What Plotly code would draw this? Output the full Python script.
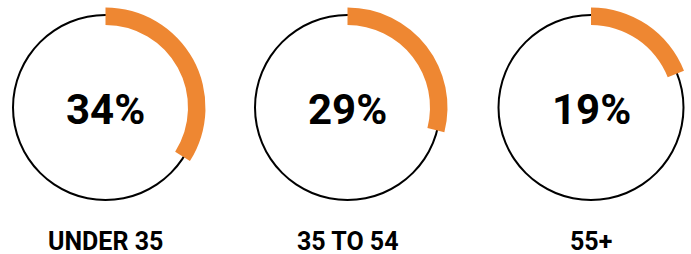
import plotly.graph_objects as go

categories = ["UNDER 35", "35 TO 54", "55+"]
values = [34, 29, 19]
value_labels = ["34%", "29%", "19%"]

W, H = 691, 254
ORANGE = "#EE8732"
FONT = "Roboto, Liberation Sans, Arial, sans-serif"

centers_x = [105.5, 347.5, 591.0]
center_y_top = 107.5
cy = H - center_y_top

R_ARC_OUT, R_ARC_IN = 100.0, 82.5
R_RING_OUT, R_RING_IN = 93.5, 91.5

fig = go.Figure()

def dom(cx, r):
    return dict(x=[(cx - r) / W, (cx + r) / W], y=[(cy - r) / H, (cy + r) / H])

for i, (cat, v) in enumerate(zip(categories, values)):
    cx = centers_x[i]
    fig.add_trace(go.Pie(
        values=[100], labels=[cat + " ring"], domain=dom(cx, R_RING_OUT),
        hole=R_RING_IN / R_RING_OUT, marker=dict(colors=["#000000"], line=dict(width=0)),
        textinfo="none", hoverinfo="skip", sort=False, showlegend=False,
    ))
    fig.add_trace(go.Pie(
        values=[v, 100 - v], labels=[cat, cat + " rest"], domain=dom(cx, R_ARC_OUT),
        hole=R_ARC_IN / R_ARC_OUT, direction="clockwise", rotation=0, sort=False,
        marker=dict(colors=[ORANGE, "rgba(0,0,0,0)"], line=dict(width=0)),
        textinfo="none", hoverinfo="skip", showlegend=False,
    ))
    fig.add_annotation(
        x=cx / W, y=(H - 109.5) / H, xref="paper", yref="paper",
        text="<b>%s</b>" % value_labels[i], showarrow=False,
        font=dict(family=FONT, size=42, color="#000000"),
        xanchor="center", yanchor="middle",
    )
    fig.add_annotation(
        x=cx / W, y=(H - 241.5) / H, xref="paper", yref="paper",
        text="<b>%s</b>" % cat, showarrow=False, borderpad=0,
        font=dict(family=FONT, size=25, color="#000000"),
        xanchor="center", yanchor="middle",
    )

fig.update_layout(
    width=W, height=H, margin=dict(l=0, r=0, t=0, b=0),
    paper_bgcolor="white", plot_bgcolor="white",
)

fig.write_html("out.html", config={"displayModeBar": False},
               post_script="document.body.style.margin='0';")
